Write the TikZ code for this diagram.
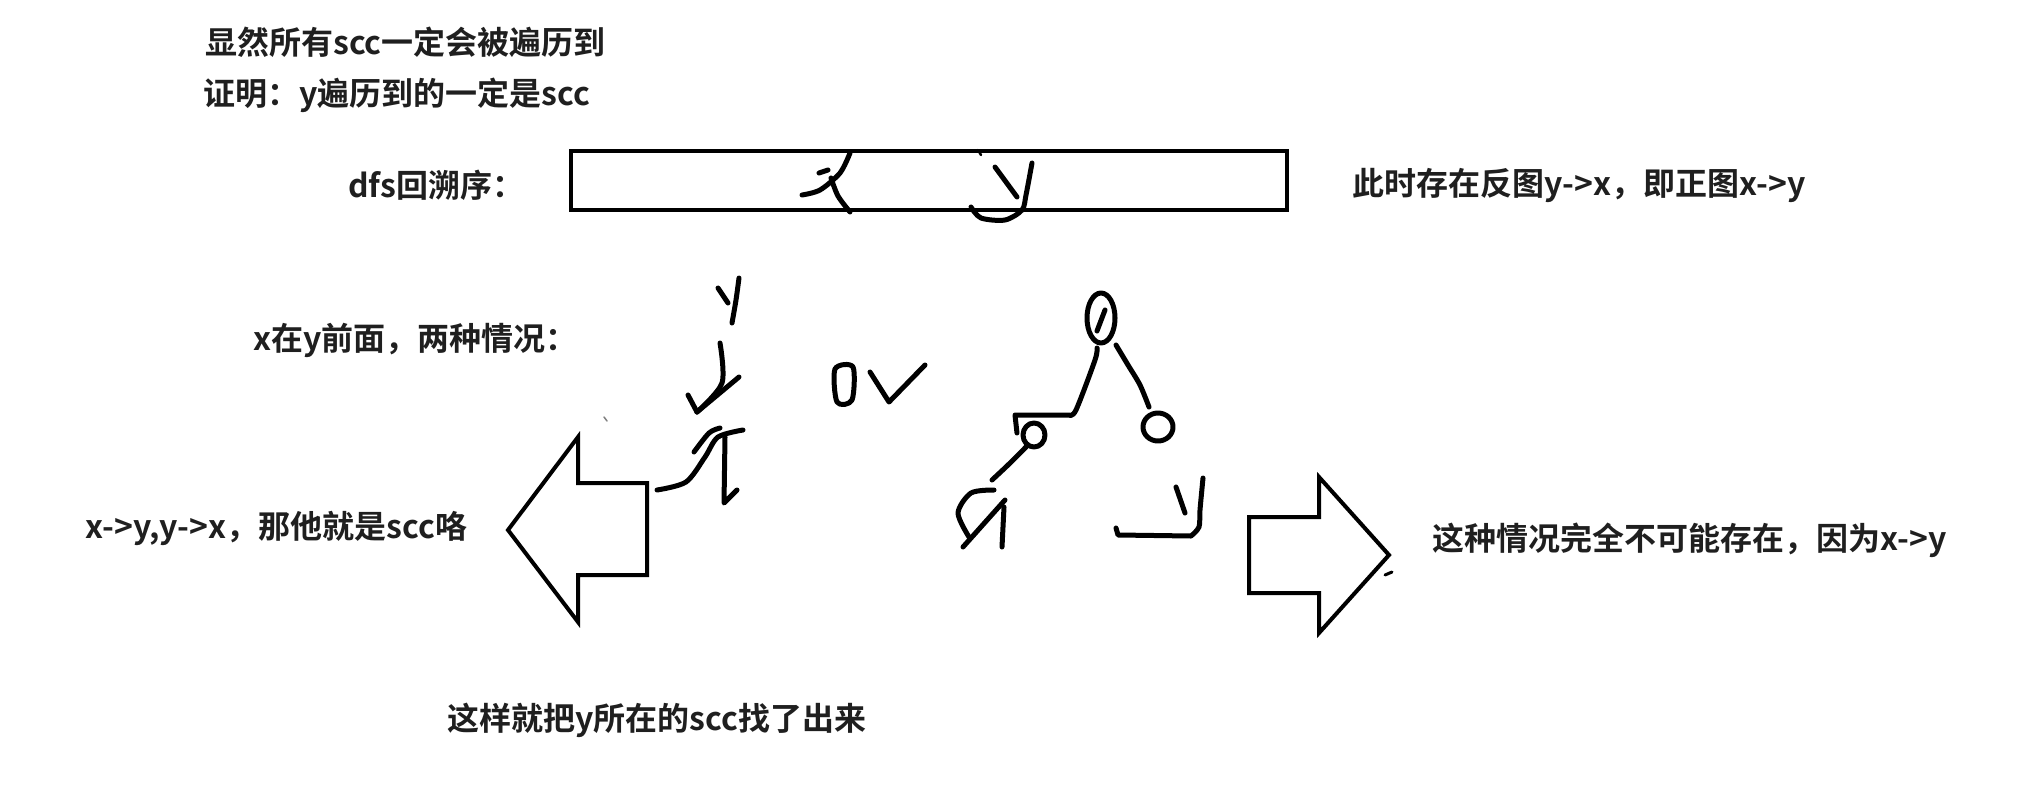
\documentclass[tikz,border=0pt]{standalone}
\usepackage{fontspec}
\newfontfamily\cjk{Noto Sans CJK SC Bold}
\usetikzlibrary{positioning}

\begin{document}
\begin{tikzpicture}[
    x=1pt, y=-1pt,
    note/.style={anchor=west, inner sep=0pt, font=\cjk\fontsize{32}{38}\selectfont, text=black!88},
    pen/.style={line width=5pt, line cap=round, line join=round},
    blockarrow/.style={line width=4pt, line join=miter}
]
\useasboundingbox (0,0) rectangle (2019,785);

% texts
\node[note] (claim) at (205,42) {显然所有scc一定会被遍历到};
\node[note] (proof) at (203,95) {证明：y遍历到的一定是scc};
\node[note] (dfs) at (348,185) {dfs回溯序：};
\node[note] (rev) at (1352,185) {此时存在反图y->x，即正图x->y};
\node[note] (cases) at (253,340) {x在y前面，两种情况：};
\node[note] (leftres) at (85,528) {x->y,y->x，那他就是scc咯};
\node[note] (rightres) at (1432,540) {这种情况完全不可能存在，因为x->y};
\node[note] (found) at (447,720) {这样就把y所在的scc找了出来};

% order box
\node[draw, line width=4pt, minimum width=716pt, minimum height=59pt, inner sep=0pt] (order) at (929,180.5) {};
\draw[pen] plot[smooth] coordinates {(850,153) (840,173) (820,190) (802,195)};
\draw[pen] (819,173) -- (828,170);
\draw[pen] plot[smooth] coordinates {(831,178) (838,196) (850,212)};
\draw[pen, line width=2.5pt] (978,150) -- (981,155);
\draw[pen] (995,167) -- (1017,197);
\draw[pen] plot[smooth] coordinates {(1032,163) (1026,195) (1022,210) (1005,220) (981,218) (971,207)};

% case 1: y above x
\draw[pen] (718,288) -- (728,303);
\draw[pen] plot[smooth] coordinates {(739,278) (736,300) (732,323)};
\draw[pen] plot[smooth] coordinates {(720,343) (722,383) (697,412)};
\draw[pen] (739,377) -- (697,412);
\draw[pen] (688,395) -- (697,412);
\draw[pen] plot[smooth] coordinates {(657,490) (686,482) (705,457) (718,437) (743,430)};
\draw[pen] plot[smooth] coordinates {(694,452) (709,433) (720,428)};
\draw[pen] (725,437) -- (724,503) -- (737,490);

% or
\draw[pen] plot[smooth cycle] coordinates {(835,369) (853,367) (852,400) (837,402)};
\draw[pen] (870,372) -- (889,402) -- (925,365);

% case 2: common ancestor
\draw[pen] (1101,318) ellipse (14 and 25);
\draw[pen] (1097,331) -- (1105,310);
\draw[pen] plot[smooth] coordinates {(1097,348) (1095,360) (1076,410) (1069,415)} -- (1015,415) -- (1017,433);
\draw[pen] (1034,435) ellipse (11 and 12);
\draw[pen] plot[smooth] coordinates {(1026,447) (1008,465) (992,480)};
\draw[pen] plot[smooth] coordinates {(994,490) (971,493) (958,513) (969,537)};
\draw[pen] (1005,500) -- (963,547);
\draw[pen] (1004,507) -- (1002,547);
\draw[pen] plot[smooth] coordinates {(1116,345) (1128,365) (1140,385) (1149,407)};
\draw[pen] (1158,427) ellipse (15 and 14);
\draw[pen] (1176,487) -- (1185,513);
\draw[pen] plot[smooth] coordinates {(1203,478) (1200,510) (1199,527) (1191,536)} -- (1118,535) -- (1116,528);

% block arrows
\draw[blockarrow] (508,530) -- (578,437) -- (578,483) -- (647,483) -- (647,575) -- (578,575) -- (578,622) -- cycle;
\draw[blockarrow] (1249,517) -- (1319,517) -- (1319,477) -- (1389,555) -- (1319,633) -- (1319,593) -- (1249,593) -- cycle;
\draw[pen, line width=1.5pt, black!50] (604,417) -- (607,421);
\draw[pen, line width=3pt] (1385,575) -- (1392,572);
\end{tikzpicture}
\end{document}
